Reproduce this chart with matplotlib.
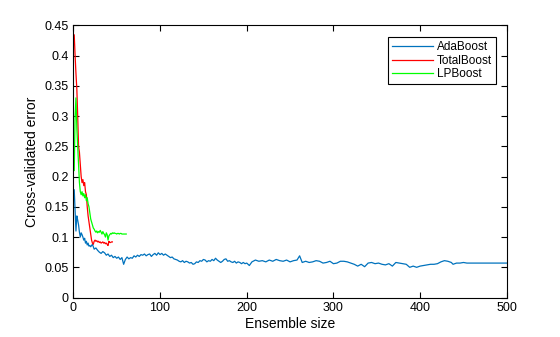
import numpy as np
import matplotlib
matplotlib.use('Agg')
import matplotlib.pyplot as plt

plt.rcParams['font.family'] = ['Liberation Sans', 'DejaVu Sans']

# AdaBoost: every iteration early on, coarser later
ada_x = [1, 2, 3, 4, 5, 6, 7, 8, 9, 10, 11, 12, 13, 14, 15, 16, 17, 18, 19, 20,
         22, 24, 26, 28, 30, 32, 34, 36, 38, 40, 42, 44, 46, 48, 50, 52, 54, 56, 58,
         60, 62, 64, 66, 68, 70, 72, 74, 76, 78, 80, 82, 84, 86, 88, 90, 92, 94, 96,
         98, 100, 102, 104, 106, 108, 110, 112, 114, 116, 118, 120, 122, 124, 126,
         128, 130, 132, 134, 136, 138, 140, 142, 144, 146, 148, 150, 152, 154, 156,
         158, 160, 162, 164, 166, 168, 170, 172, 174, 176, 178, 180, 182, 184, 186,
         188, 190, 192, 194, 196, 198, 200, 203, 206, 210, 214, 218, 222, 226, 230,
         234, 238, 242, 246, 250, 254, 258, 261, 264, 268, 272, 276, 280, 284, 288,
         292, 296, 300, 304, 308, 312, 316, 320, 324, 328, 332, 336, 340, 344, 348,
         352, 356, 360, 364, 368, 372, 376, 380, 384, 388, 392, 396, 400, 404, 408,
         412, 416, 420, 424, 428, 432, 436, 438, 442, 446, 450, 454, 456, 500]
ada_err = [0.178, 0.145, 0.110, 0.135, 0.128, 0.120, 0.108, 0.100, 0.107, 0.104,
           0.100, 0.095, 0.098, 0.090, 0.093, 0.087, 0.090, 0.085, 0.086, 0.084,
           0.088, 0.080, 0.082, 0.078, 0.075, 0.073, 0.076, 0.074, 0.070, 0.072,
           0.068, 0.070, 0.066, 0.068, 0.065, 0.067, 0.063, 0.066, 0.055,
           0.063, 0.067, 0.064, 0.066, 0.065, 0.069, 0.067, 0.070, 0.068, 0.071,
           0.070, 0.072, 0.069, 0.071, 0.072, 0.068, 0.071, 0.073, 0.070, 0.074,
           0.071, 0.073, 0.070, 0.072, 0.070, 0.068, 0.066, 0.067, 0.064, 0.063,
           0.062, 0.060, 0.059, 0.061, 0.058, 0.060, 0.059, 0.057, 0.058, 0.055,
           0.056, 0.059, 0.058, 0.061, 0.060, 0.063, 0.062, 0.059, 0.061, 0.060,
           0.063, 0.061, 0.065, 0.062, 0.060, 0.058, 0.060, 0.063, 0.064, 0.060,
           0.061, 0.059, 0.058, 0.060, 0.057, 0.059, 0.058, 0.056, 0.058, 0.056,
           0.057, 0.053, 0.059, 0.062, 0.060, 0.061, 0.059, 0.062, 0.060, 0.063,
           0.061, 0.060, 0.062, 0.059, 0.061, 0.062, 0.069, 0.058, 0.060, 0.058,
           0.059, 0.061, 0.060, 0.057, 0.058, 0.060, 0.056, 0.057, 0.060, 0.060,
           0.059, 0.057, 0.055, 0.052, 0.055, 0.051, 0.057, 0.058, 0.056, 0.057,
           0.055, 0.054, 0.056, 0.052, 0.058, 0.057, 0.056, 0.055, 0.050, 0.052,
           0.050, 0.052, 0.053, 0.054, 0.055, 0.055, 0.056, 0.059, 0.061, 0.060,
           0.058, 0.055, 0.057, 0.057, 0.058, 0.057, 0.057, 0.057]

total_err = [0.434, 0.400, 0.370, 0.345, 0.300, 0.250, 0.240, 0.220, 0.200, 0.190,
             0.195, 0.185, 0.190, 0.175, 0.170, 0.150, 0.135, 0.125, 0.115, 0.105,
             0.095, 0.090, 0.088, 0.093, 0.095, 0.093, 0.094, 0.092, 0.093, 0.091,
             0.092, 0.090, 0.091, 0.092, 0.090, 0.091, 0.089, 0.090, 0.088, 0.086,
             0.093, 0.091, 0.091, 0.092, 0.092]
total_x = np.arange(1, len(total_err) + 1)

lp_err = [0.210, 0.300, 0.330, 0.280, 0.250, 0.220, 0.190, 0.175, 0.170, 0.175,
          0.168, 0.172, 0.165, 0.170, 0.160, 0.165, 0.155, 0.150, 0.140, 0.130,
          0.125, 0.120, 0.115, 0.113, 0.110, 0.108, 0.110, 0.107, 0.109, 0.108,
          0.111, 0.108, 0.105, 0.109, 0.106, 0.104, 0.100, 0.107, 0.104, 0.095,
          0.102, 0.104, 0.106, 0.105, 0.107, 0.106, 0.107, 0.106, 0.106, 0.105,
          0.106, 0.106, 0.105, 0.106, 0.106, 0.105, 0.105, 0.105, 0.105, 0.105,
          0.105]
lp_x = np.arange(1, len(lp_err) + 1)

fig = plt.figure(figsize=(5.6, 3.37), dpi=100)
ax = fig.add_axes([0.131, 0.117, 0.774, 0.808])

ax.plot(ada_x, ada_err, color='#0072BD', lw=0.9, label='AdaBoost')
ax.plot(total_x, total_err, color='r', lw=0.9, label='TotalBoost')
ax.plot(lp_x, lp_err, color=(0, 1, 0), lw=0.9, label='LPBoost')

ax.set_xlim(0, 500)
ax.set_ylim(0, 0.45)
ax.set_xticks([0, 100, 200, 300, 400, 500])
ax.set_yticks(np.arange(0, 0.451, 0.05))
ax.set_yticklabels(['0', '0.05', '0.1', '0.15', '0.2', '0.25', '0.3', '0.35', '0.4', '0.45'])
ax.tick_params(direction='in', top=True, right=True, length=4, width=0.8, labelsize=9)
for s in ax.spines.values():
    s.set_linewidth(0.8)

ax.set_xlabel('Ensemble size', fontsize=10, labelpad=2)
ax.set_ylabel('Cross-validated error', fontsize=10, labelpad=4)

leg = ax.legend(loc='upper right', bbox_to_anchor=(0.975, 0.956), fontsize=8.5,
                fancybox=False, framealpha=1, edgecolor='k', handlelength=3.4,
                handletextpad=0.35, borderpad=0.35, labelspacing=0.12, borderaxespad=0)
leg.get_frame().set_linewidth(0.8)

fig.savefig('out.png', dpi=100)
